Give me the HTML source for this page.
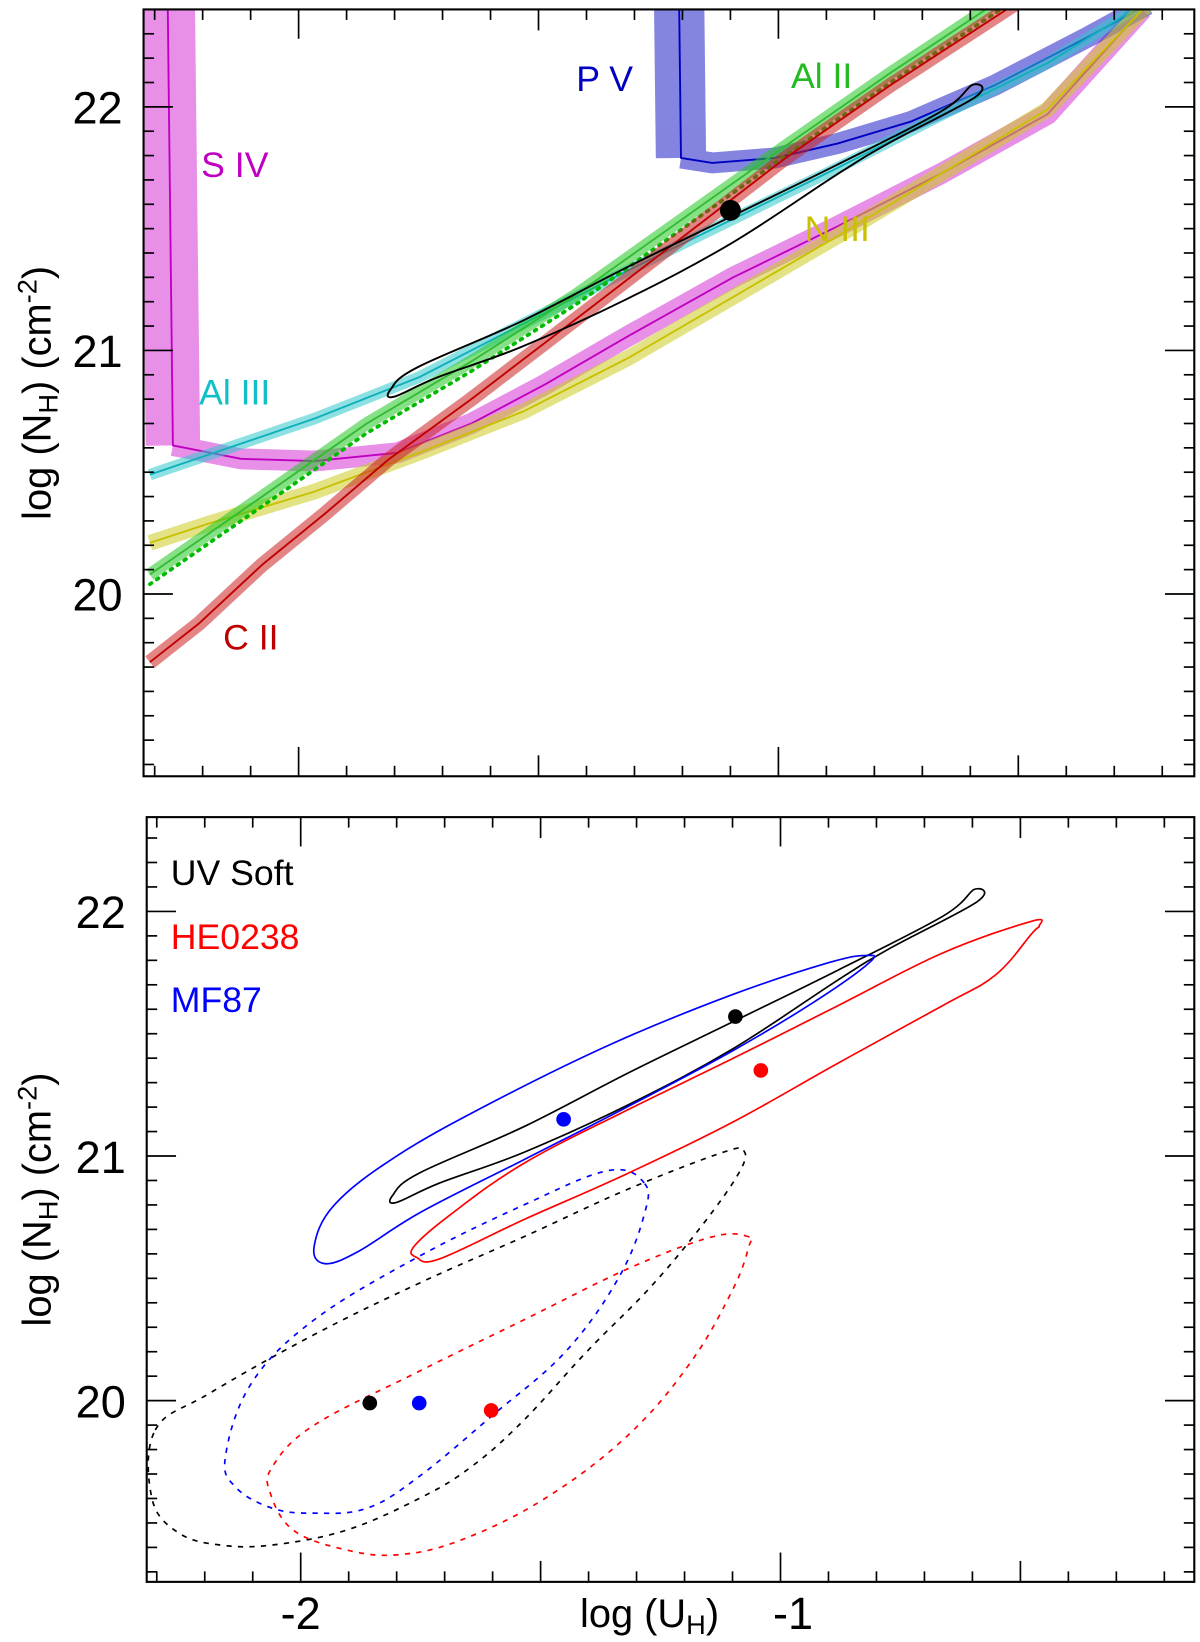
<!DOCTYPE html>
<html><head><meta charset="utf-8"><style>
html,body{margin:0;padding:0;background:#fff;}
svg{display:block;font-family:"Liberation Sans",Arial,sans-serif;}
</style></head><body>
<svg id="chart" width="1200" height="1642" viewBox="0 0 1145.4 1567.4" xmlns="http://www.w3.org/2000/svg">
<defs>
<clipPath id="clipTop"><rect x="137" y="9" width="1003" height="732"/></clipPath>
<clipPath id="clipBot"><rect x="140" y="780" width="1000" height="730"/></clipPath>
</defs>
<g id="topPanel"></g>
<g id="botPanel"></g>
</svg>
<script>
// ---------- data (log U, log N) ----------
const sivU=[-2.273,-2.262,-2.120,-1.967,-1.793,-1.640,-1.487,-1.312,-1.094,-0.876,-0.657,-0.439,-0.242];
const sivN=[22.44,20.61,20.555,20.546,20.58,20.70,20.86,21.06,21.30,21.51,21.73,21.97,22.40];
const pvU=[-1.207,-1.203,-1.138,-1.007,-0.876,-0.723,-0.548,-0.352,-0.231];
const pvN=[22.44,21.79,21.77,21.79,21.85,21.94,22.09,22.29,22.42];
const al3U=[-2.310,-1.967,-1.749,-1.531,-1.312,-1.094,-0.876,-0.657,-0.439,-0.242];
const al3N=[20.49,20.72,20.89,21.11,21.33,21.54,21.75,21.97,22.18,22.42];
const al2U=[-2.310,-2.076,-1.858,-1.640,-1.421,-1.203,-0.985,-0.766,-0.537];
const al2N=[20.08,20.40,20.70,20.955,21.23,21.535,21.84,22.14,22.44];
const c2U=[-2.310,-2.207,-2.076,-1.945,-1.814,-1.640,-1.421,-1.203,-0.985,-0.766,-0.493];
const c2N=[19.72,19.88,20.12,20.33,20.55,20.80,21.13,21.46,21.79,22.09,22.44];
const n3U=[-2.310,-2.186,-1.967,-1.749,-1.531,-1.312,-1.094,-0.876,-0.657,-0.439,-0.231];
const n3N=[20.21,20.29,20.42,20.58,20.75,20.97,21.22,21.47,21.73,21.99,22.42];
const uvSolidU=[-1.808,-1.753,-1.535,-1.317,-1.098,-0.880,-0.662,-0.596,-0.590,-0.771,-0.880,-1.098,-1.317,-1.535,-1.710,-1.801];
const uvSolidN=[20.84,20.93,21.12,21.34,21.55,21.76,21.98,22.09,22.04,21.85,21.72,21.44,21.21,21.015,20.89,20.81];
const mfSolidU=[-1.972,-1.93,-1.80,-1.60,-1.35,-1.10,-0.90,-0.82,-0.815,-0.93,-1.10,-1.32,-1.54,-1.75,-1.88,-1.95];
const mfSolidN=[20.63,20.80,21.00,21.22,21.46,21.66,21.79,21.82,21.79,21.63,21.43,21.20,20.98,20.77,20.61,20.56];
const heSolidU=[-1.764,-1.688,-1.535,-1.317,-1.098,-0.880,-0.662,-0.476,-0.461,-0.476,-0.552,-0.662,-0.880,-1.098,-1.317,-1.535,-1.710,-1.758];
const heSolidN=[20.63,20.76,20.97,21.19,21.40,21.615,21.83,21.96,21.94,21.91,21.74,21.615,21.38,21.14,20.93,20.74,20.58,20.585];
const uvDashU=[-2.303,-2.190,-1.972,-1.753,-1.535,-1.317,-1.120,-1.076,-1.087,-1.164,-1.273,-1.404,-1.535,-1.644,-1.753,-1.906,-2.059,-2.168,-2.255,-2.310];
const uvDashN=[19.88,20.03,20.27,20.48,20.67,20.865,21.015,21.02,20.93,20.715,20.46,20.20,19.92,19.73,19.60,19.47,19.41,19.41,19.46,19.60];
const mfDashU=[-1.284,-1.360,-1.535,-1.753,-1.972,-2.103,-2.157,-2.135,-2.059,-1.972,-1.862,-1.753,-1.600,-1.448,-1.338,-1.284];
const mfDashN=[20.89,20.94,20.80,20.59,20.33,20.07,19.77,19.645,19.56,19.54,19.56,19.69,19.94,20.20,20.50,20.76];
const heDashU=[-1.066,-1.142,-1.317,-1.535,-1.753,-1.972,-2.059,-2.063,-2.015,-1.906,-1.797,-1.666,-1.491,-1.317,-1.186,-1.098,-1.066];
const heDashN=[20.67,20.67,20.54,20.33,20.12,19.90,19.73,19.62,19.47,19.39,19.37,19.43,19.60,19.86,20.16,20.46,20.63];
const topDotU=[-1.100], topDotN=[21.575];
const solidDotU=[-1.094,-1.041,-1.452], solidDotN=[21.57,21.35,21.15];
const dashDotU=[-1.856,-1.603,-1.753], dashDotN=[19.99,19.96,19.99];
const yTickLabels=["20","21","22"];
const xTickLabels=["-2","-1"];

const NS="http://www.w3.org/2000/svg";
function mk(parent,tag,attrs){const e=document.createElementNS(NS,tag);for(const k in attrs)e.setAttribute(k,attrs[k]);parent.appendChild(e);return e;}
// axis functions
const xT=u=>285+(u+2)*458, yT=n=>102+(22-n)*232.5;
const xB=u=>287+(u+2)*458, yB=n=>870+(22-n)*233.5;
function pts(U,N,fx,fy){return U.map((u,i)=>fx(u).toFixed(1)+","+fy(N[i]).toFixed(1)).join(" ");}
function smoothClosed(U,N,fx,fy){
  const P=U.map((u,i)=>[fx(u),fy(N[i])]);const n=P.length;
  let d=`M${P[0][0].toFixed(1)},${P[0][1].toFixed(1)}`;
  for(let i=0;i<n;i++){const p0=P[(i-1+n)%n],p1=P[i],p2=P[(i+1)%n],p3=P[(i+2)%n];const t=0.18;
    const c1=[p1[0]+(p2[0]-p0[0])*t,p1[1]+(p2[1]-p0[1])*t],c2=[p2[0]-(p3[0]-p1[0])*t,p2[1]-(p3[1]-p1[1])*t];
    d+=`C${c1[0].toFixed(1)},${c1[1].toFixed(1)} ${c2[0].toFixed(1)},${c2[1].toFixed(1)} ${p2[0].toFixed(1)},${p2[1].toFixed(1)}`;}
  return d+"Z";}

function axes(g,L,T,R,B,fx,fy){
  mk(g,'rect',{x:L,y:T,width:R-L,height:B-T,fill:'none',stroke:'#000','stroke-width':2});
  for(let k=-24;k<=-1;k++){const u=k/10;const x=fx(u);if(x<L+2||x>R-2)continue;
    const len=(k%10===0)?28:(k%5===0?20:10);
    mk(g,'line',{x1:x,y1:B,x2:x,y2:B-len,stroke:'#000','stroke-width':1.6});
    mk(g,'line',{x1:x,y1:T,x2:x,y2:T+len,stroke:'#000','stroke-width':1.6});}
  for(let k=190;k<=225;k++){const n=k/10;const y=fy(n);if(y<T+2||y>B-2)continue;
    const len=(k%10===0)?28:10;
    mk(g,'line',{x1:L,y1:y,x2:L+len,y2:y,stroke:'#000','stroke-width':1.6});
    mk(g,'line',{x1:R,y1:y,x2:R-len,y2:y,stroke:'#000','stroke-width':1.6});}
  yTickLabels.forEach((s,i)=>{const t=mk(g,'text',{x:L-20,y:fy(20+i)+16,'font-size':43,'text-anchor':'end',fill:'#000'});t.textContent=s;
    
    });
  const yt=mk(g,'text',{transform:`translate(48,${(T+B)/2}) rotate(-90)`,'font-size':38,'text-anchor':'middle',fill:'#000'});
  
  
  const parts=[['log (N',{}],['H',{'font-size':26,dy:7}],[') (cm',{dy:-7}],['-2',{'font-size':26,dy:-13}],[')',{dy:13}]];
  parts.forEach(p=>{const s=mk(yt,'tspan',p[1]);s.textContent=p[0];});
}
function band(g,U,N,fx,fy,fill,w,line,wide){
  const bg=mk(g,'g',{opacity:0.55});
  if(wide){mk(bg,'polyline',{points:pts(U.slice(0,2),N.slice(0,2),fx,fy),fill:'none',stroke:fill,'stroke-width':wide,'stroke-linejoin':'round'});}
  mk(bg,'polyline',{points:pts(wide?U.slice(1):U,wide?N.slice(1):N,fx,fy),fill:'none',stroke:fill,'stroke-width':w,'stroke-linejoin':'round','stroke-linecap':'butt'});
  mk(g,'polyline',{points:pts(U,N,fx,fy),fill:'none',stroke:line,'stroke-width':1.8,'stroke-linejoin':'round'});
}
function label(g,x,y,s,c,fs,name){const t=mk(g,'text',{x:x,y:y,'font-size':fs,fill:c});t.textContent=s;
  
  }

// ---------- top ----------
const topG=document.getElementById('topPanel');
const tp=mk(topG,'g',{'clip-path':'url(#clipTop)'});


band(tp,sivU,sivN,xT,yT,'#d633d6',20,'#c000c0',52);
band(tp,pvU,pvN,xT,yT,'#2020c8',20,'#0000c0',48);
band(tp,al3U,al3N,xT,yT,'#30c8cc',11,'#10b0bb');
band(tp,n3U,n3N,xT,yT,'#cccc22',15,'#c8c000');
band(tp,al2U,al2N,xT,yT,'#22c822',12,'#33bb33');
mk(tp,'polyline',{points:pts(al2U,al2N.map(n=>n-0.04),xT,yT),fill:'none',stroke:'#00bb00','stroke-width':3.5,'stroke-dasharray':'2 6','stroke-linecap':'round'});
band(tp,c2U,c2N,xT,yT,'#cc2020',14,'#c00000');
mk(tp,'path',{d:smoothClosed(uvSolidU,uvSolidN,xT,yT),fill:'none',stroke:'#000','stroke-width':1.8,'stroke-linejoin':'round'});
topDotU.forEach((u,i)=>{const c=mk(tp,'circle',{cx:xT(u),cy:yT(topDotN[i]),r:10,fill:'#000'});
  
  });
axes(topG,137,9,1140,741,xT,yT);
label(topG,192,169,'S IV','#c000c0',34,'label-s-iv');
label(topG,190,386,'Al III','#10c0c8',34,'label-al-iii');
label(topG,213,620,'C II','#c00000',34,'label-c-ii');
label(topG,550,87,'P V','#0000c0',34,'label-p-v');
label(topG,755,84,'Al II','#22bb22',34,'label-al-ii');
label(topG,768,230,'N III','#c8c000',34,'label-n-iii');

// ---------- bottom ----------
const botG=document.getElementById('botPanel');
const bp=mk(botG,'g',{'clip-path':'url(#clipBot)'});


const curves=[[uvSolidU,uvSolidN,'#000',0],[mfSolidU,mfSolidN,'#0000ff',0],[heSolidU,heSolidN,'#ff0000',0],
 [uvDashU,uvDashN,'#000',1],[mfDashU,mfDashN,'#0000ff',1],[heDashU,heDashN,'#ff0000',1]];
curves.forEach(c=>{const a={d:smoothClosed(c[0],c[1],xB,yB),fill:'none',stroke:c[2],'stroke-width':1.6,'stroke-linejoin':'round'};
  if(c[3])a['stroke-dasharray']='5 6';const p=mk(bp,'path',a);
  
  });
const dotCols=['#000','#ff0000','#0000ff'];
solidDotU.forEach((u,i)=>{const c=mk(bp,'circle',{cx:xB(u),cy:yB(solidDotN[i]),r:7,fill:dotCols[i]});
  
  });
dashDotU.forEach((u,i)=>{const c=mk(bp,'circle',{cx:xB(u),cy:yB(dashDotN[i]),r:7,fill:dotCols[i]});
  
  });
axes(botG,140,780,1140,1510,xB,yB);
label(botG,163,845,'UV Soft','#000',34,'legend-uv-soft');
label(botG,163,906,'HE0238','#ff0000',34,'legend-he0238');
label(botG,163,966,'MF87','#0000ff',34,'legend-mf87');
xTickLabels.forEach((s,i)=>{const t=mk(botG,'text',{x:xB(-2+i)+(i?12:0),y:1555,'font-size':43,'text-anchor':'middle',fill:'#000'});t.textContent=s;
  
  });
const xt=mk(botG,'text',{x:620,y:1553,'font-size':38,'text-anchor':'middle',fill:'#000'});


[['log (U',{}],['H',{'font-size':26,dy:7}],[')',{dy:-7}]].forEach(p=>{const s=mk(xt,'tspan',p[1]);s.textContent=p[0];});
</script>
</body></html>
